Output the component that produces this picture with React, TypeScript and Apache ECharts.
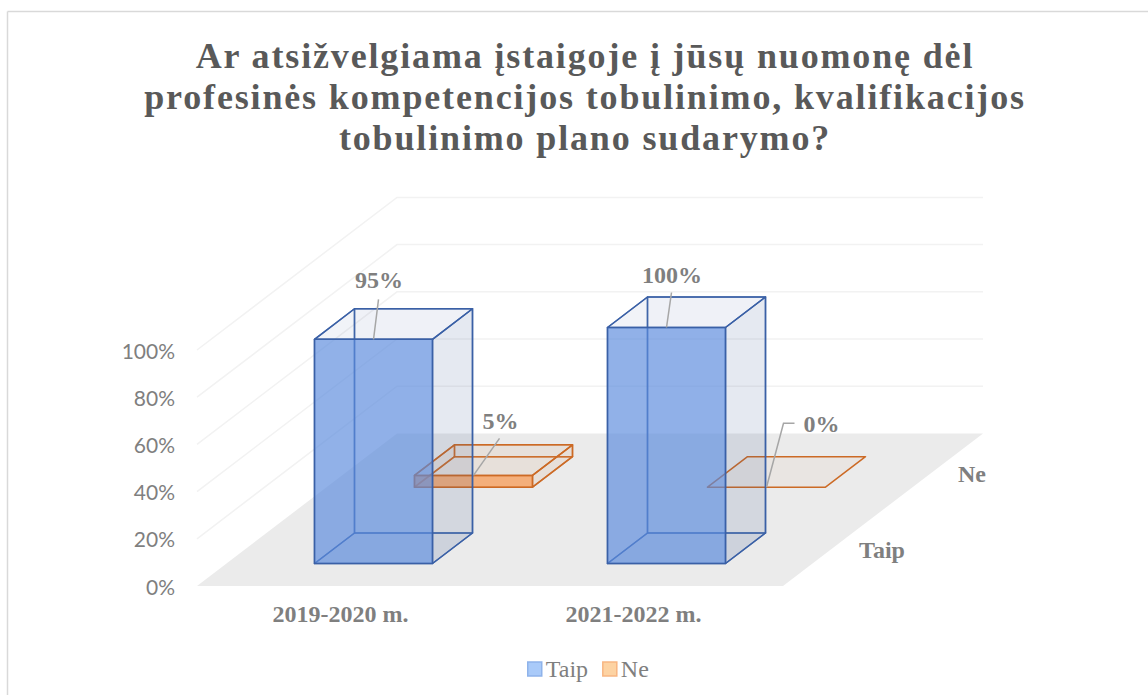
import React, { useEffect, useRef } from "react";
import * as echarts from "echarts";

const titleLines = [
  "Ar atsižvelgiama įstaigoje į jūsų nuomonę dėl",
  "profesinės kompetencijos tobulinimo, kvalifikacijos",
  "tobulinimo plano sudarymo?",
];
const categories = ["2019-2020 m.", "2021-2022 m."];
const rows = ["Taip", "Ne"];
const taipValues = [95, 100];
const neValues = [5, 0];
const yTicks = [0, 20, 40, 60, 80, 100];

const SERIF = "'Liberation Serif', 'Times New Roman', serif";
const GREY = "#7f7f7f";
// projection of one depth unit (one row) onto the page
const DX = 100;
const DY = -76.3;
const HALF_W = 59;
const D_FRONT = 0.295;
const D_BACK = 0.695;

type Pt = number[];

function poly(points: Pt[], fill: string, stroke: string, lineWidth = 1.5): any {
  return {
    type: "polygon",
    shape: { points },
    style: { fill, stroke, lineWidth, lineJoin: "round" },
    silent: true,
  };
}

function barRenderer(row: number, palette: any) {
  return (params: any, api: any) => {
    const cat = api.value(0);
    const v = api.value(1);
    const base = api.coord([cat, 0]);
    const top = api.coord([cat, v]);
    const xc = base[0] + 0.5;
    const project = (side: number, high: boolean, depth: number): Pt => [
      xc + side * HALF_W + DX * (row + depth),
      (high ? top[1] : base[1]) + DY * (row + depth),
    ];
    const f = D_FRONT;
    const b = D_BACK;
    const s = palette.stroke;
    const faces: any[] = [];
    if (v > 0) {
      faces.push(poly([project(-1, false, f), project(1, false, f), project(1, false, b), project(-1, false, b)], palette.bottom, palette.hidden));
      faces.push(poly([project(-1, false, b), project(1, false, b), project(1, true, b), project(-1, true, b)], palette.back, palette.hidden));
      faces.push(poly([project(-1, false, f), project(-1, false, b), project(-1, true, b), project(-1, true, f)], palette.left, palette.hidden));
      faces.push(poly([project(1, false, f), project(1, false, b), project(1, true, b), project(1, true, f)], palette.right, s));
      faces.push(poly([project(-1, true, f), project(1, true, f), project(1, true, b), project(-1, true, b)], palette.top, s));
      faces.push(poly([project(-1, false, f), project(1, false, f), project(1, true, f), project(-1, true, f)], palette.front, s));
    } else {
      faces.push(poly([project(-1, true, f), project(1, true, f), project(1, true, b), project(-1, true, b)], palette.top, s));
    }
    return { type: "group", children: faces };
  };
}

function labelRenderer(row: number, values: number[]) {
  return (params: any, api: any) => {
    const cat = api.value(0);
    const v = api.value(1);
    const top = api.coord([cat, v]);
    const ax = top[0] + 0.5 + DX * (row + D_FRONT);
    const ay = top[1] + DY * (row + D_FRONT);
    let pts: Pt[];
    let tx: number;
    let ty: number;
    if (row === 0) {
      const rise = v < 100 ? 40 : 35;
      pts = [[ax, ay], [ax + 5, ay - rise]];
      tx = ax + 5.5;
      ty = ay - rise - (v < 100 ? 19 : 17);
    } else if (v > 0) {
      pts = [[ax, ay], [ax + 26, ay - 37]];
      tx = ax + 27;
      ty = ay - 54;
    } else {
      pts = [[ax, ay], [ax + 17, ay - 64], [ax + 28, ay - 64]];
      tx = ax + 55;
      ty = ay - 63;
    }
    return {
      type: "group",
      children: [
        { type: "polyline", shape: { points: pts }, style: { fill: "none", stroke: "#a6a6a6", lineWidth: 1.5 }, silent: true },
        {
          type: "text",
          silent: true,
          style: {
            x: tx,
            y: ty,
            text: values[cat] + "%",
            fill: GREY,
            font: "bold 24px " + SERIF,
            align: "center",
            verticalAlign: "middle",
          },
        },
      ],
    };
  };
}

export default function App() {
  const ref = useRef<HTMLDivElement>(null);
  useEffect(() => {
    document.body.style.margin = "0";
    const chart = echarts.init(ref.current!, undefined, { renderer: "svg" });
    const taipPalette = {
      stroke: "#3a60a6",
      hidden: "rgba(58,96,166,0.8)",
      bottom: "rgba(60,90,150,0.07)",
      back: "rgba(60,90,150,0.03)",
      left: "rgba(60,90,150,0.02)",
      right: "rgba(60,85,150,0.10)",
      top: "rgba(60,85,150,0.05)",
      front: "rgba(90,138,222,0.66)",
    };
    const nePalette = {
      stroke: "#cc6a25",
      hidden: "rgba(204,106,37,0.8)",
      bottom: "rgba(197,120,60,0.04)",
      back: "rgba(197,120,60,0.04)",
      left: "rgba(197,120,60,0.04)",
      right: "rgba(197,120,60,0.06)",
      top: "rgba(197,120,60,0.05)",
      front: "rgba(250,140,60,0.62)",
    };
    chart.setOption({
      animation: false,
      title: {
        text: titleLines.join("\n"),
        left: 580,
        top: 30,
        textAlign: "center",
        textStyle: {
          fontFamily: SERIF,
          fontWeight: "bold",
          fontSize: 36,
          lineHeight: 41,
          color: "#595959",
        },
      },
      legend: {
        left: 522,
        top: 652,
        itemWidth: 14,
        itemHeight: 14,
        itemGap: 14,
        icon: "rect",
        selectedMode: false,
        textStyle: { fontFamily: SERIF, fontSize: 24, color: GREY, padding: [0, 0, 0, -1] },
        data: [
          { name: rows[0], itemStyle: { color: "#a9caf9", borderColor: "#8fb3ea", borderWidth: 1.5 } },
          { name: rows[1], itemStyle: { color: "#fdd3a3", borderColor: "#f8b682", borderWidth: 1.5 } },
        ],
      },
      graphic: [
        { type: "line", silent: true, shape: { x1: 7.5, y1: 11.5, x2: 1148, y2: 11.5 }, style: { stroke: "#d9d9d9", lineWidth: 1.5 } },
        { type: "line", silent: true, shape: { x1: 7.5, y1: 11.5, x2: 7.5, y2: 695 }, style: { stroke: "#d9d9d9", lineWidth: 1.5 } },
      ],
      grid: { left: 197, top: 350, width: 586, height: 236 },
      xAxis: {
        type: "category",
        data: categories,
        axisLine: { show: false },
        axisTick: { show: false },
        axisLabel: {
          color: GREY,
          fontFamily: SERIF,
          fontWeight: "bold",
          fontSize: 24,
          margin: 16,
          padding: [0, 6, 0, 0],
        },
      },
      yAxis: {
        type: "value",
        min: 0,
        max: 100,
        interval: 20,
        axisLine: { show: false },
        axisTick: { show: false },
        splitLine: { show: false },
        axisLabel: {
          formatter: "{value}%",
          color: GREY,
          fontFamily: "Lato, Carlito, sans-serif",
          fontSize: 21,
          margin: 22,
          padding: [0, 0, 2, 0],
        },
      },
      series: [
        {
          type: "custom",
          name: "floor",
          silent: true,
          data: yTicks.map((t) => [0, t]),
          encode: { x: 0, y: 1 },
          renderItem: (params: any, api: any) => {
            const t = api.value(1);
            const y = api.coord([0, t])[1];
            const left = params.coordSys.x;
            const right = left + params.coordSys.width;
            const w = 2 * DX;
            const h = 2 * DY;
            if (t === 0) {
              return poly(
                [[left, y], [right, y], [right + w, y + h], [left + w, y + h]],
                "#ebebeb",
                "none",
                0,
              );
            }
            return {
              type: "polyline",
              silent: true,
              shape: { points: [[left, y], [left + w, y + h], [right + w, y + h]] },
              style: { fill: "none", stroke: "#f2f2f2", lineWidth: 1.5 },
            };
          },
        },
        {
          type: "custom",
          name: rows[1],
          silent: true,
          data: neValues.map((v, i) => [i, v]),
          encode: { x: 0, y: 1 },
          itemStyle: { color: "#fdd3a3" },
          renderItem: barRenderer(1, nePalette),
        },
        {
          type: "custom",
          name: rows[0],
          silent: true,
          data: taipValues.map((v, i) => [i, v]),
          encode: { x: 0, y: 1 },
          itemStyle: { color: "#a9caf9" },
          renderItem: barRenderer(0, taipPalette),
        },
        {
          type: "custom",
          name: "labelsNe",
          silent: true,
          data: neValues.map((v, i) => [i, v]),
          encode: { x: 0, y: 1 },
          renderItem: labelRenderer(1, neValues),
        },
        {
          type: "custom",
          name: "labelsTaip",
          silent: true,
          data: taipValues.map((v, i) => [i, v]),
          encode: { x: 0, y: 1 },
          renderItem: labelRenderer(0, taipValues),
        },
        {
          type: "custom",
          name: "rowLabels",
          silent: true,
          data: rows.map((r, i) => [1, 0, i]),
          encode: { x: 0, y: 1 },
          renderItem: (params: any, api: any) => {
            const row = api.value(2);
            const y = api.coord([0, 0])[1];
            const right = params.coordSys.x + params.coordSys.width;
            return {
              type: "text",
              silent: true,
              style: {
                x: right + DX * (row + 0.5) + (row === 0 ? 49 : 39),
                y: y + DY * (row + 0.5) + 2,
                text: rows[row],
                fill: GREY,
                font: "bold 24px " + SERIF,
                align: "center",
                verticalAlign: "middle",
              },
            };
          },
        },
      ],
    });
    return () => chart.dispose();
  }, []);
  return (
    <>
      <style>{`#c text[style*="36px"]{letter-spacing:1.85px}`}</style>
      <div
        id="c"
        ref={ref}
        style={{ position: "absolute", left: 0, top: 0, width: 1148, height: 695, overflow: "hidden" }}
      />
    </>
  );
}
